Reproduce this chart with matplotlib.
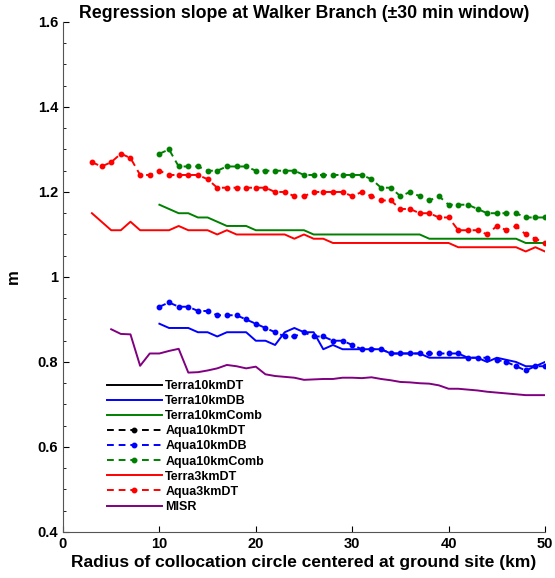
import numpy as np
import matplotlib
matplotlib.use("Agg")
import matplotlib.pyplot as plt
from matplotlib.ticker import FuncFormatter, MultipleLocator

plt.rcParams['font.family'] = ['Liberation Sans', 'DejaVu Sans']
plt.rcParams['font.weight'] = 'bold'

# -------------------------
#  DATA
# -------------------------
radius_3 = list(range(3, 51))
radius_5 = list(range(5, 51))
radius_10 = list(range(10, 51))

terra10_dt = []  # no data shown
aqua10_dt = []   # no data shown

terra10_db = [0.89, 0.88, 0.88, 0.88, 0.87, 0.87, 0.86, 0.87, 0.87, 0.87,
              0.85, 0.85, 0.84, 0.87, 0.88, 0.87, 0.87, 0.83, 0.84, 0.83,
              0.83, 0.83, 0.83, 0.83, 0.82, 0.82, 0.82, 0.82, 0.81, 0.81,
              0.81, 0.81, 0.81, 0.81, 0.80, 0.81, 0.805, 0.80, 0.79, 0.79, 0.80]

terra10_comb = [1.17, 1.16, 1.15, 1.15, 1.14, 1.14, 1.13, 1.12, 1.12, 1.12,
                1.11, 1.11, 1.11, 1.11, 1.11, 1.11, 1.10, 1.10, 1.10, 1.10,
                1.10, 1.10, 1.10, 1.10, 1.10, 1.10, 1.10, 1.10, 1.09, 1.09,
                1.09, 1.09, 1.09, 1.09, 1.09, 1.09, 1.09, 1.09, 1.08, 1.08, 1.08]

aqua10_db = [0.93, 0.94, 0.93, 0.93, 0.92, 0.92, 0.91, 0.91, 0.91, 0.90,
             0.89, 0.88, 0.87, 0.86, 0.86, 0.87, 0.86, 0.86, 0.85, 0.85,
             0.84, 0.83, 0.83, 0.83, 0.82, 0.82, 0.82, 0.82, 0.82, 0.82,
             0.82, 0.82, 0.81, 0.81, 0.81, 0.805, 0.80, 0.79, 0.78, 0.79, 0.79]

aqua10_comb = [1.29, 1.30, 1.26, 1.26, 1.26, 1.25, 1.25, 1.26, 1.26, 1.26,
               1.25, 1.25, 1.25, 1.25, 1.25, 1.24, 1.24, 1.24, 1.24, 1.24,
               1.24, 1.24, 1.23, 1.21, 1.21, 1.19, 1.20, 1.19, 1.18, 1.19,
               1.17, 1.17, 1.17, 1.16, 1.15, 1.15, 1.15, 1.15, 1.14, 1.14, 1.14]

terra3_dt = [1.15, 1.13, 1.11, 1.11, 1.13, 1.11, 1.11, 1.11, 1.11, 1.12,
             1.11, 1.11, 1.11, 1.10, 1.11, 1.10, 1.10, 1.10, 1.10, 1.10,
             1.10, 1.09, 1.10, 1.09, 1.09, 1.08, 1.08, 1.08, 1.08, 1.08,
             1.08, 1.08, 1.08, 1.08, 1.08, 1.08, 1.08, 1.08, 1.07, 1.07,
             1.07, 1.07, 1.07, 1.07, 1.07, 1.06, 1.07, 1.06]

aqua3_dt = [1.27, 1.26, 1.27, 1.29, 1.28, 1.24, 1.24, 1.25, 1.24, 1.24,
            1.24, 1.24, 1.23, 1.21, 1.21, 1.21, 1.21, 1.21, 1.21, 1.20,
            1.20, 1.19, 1.19, 1.20, 1.20, 1.20, 1.20, 1.19, 1.20, 1.19,
            1.18, 1.18, 1.16, 1.16, 1.15, 1.15, 1.14, 1.14, 1.11, 1.11,
            1.11, 1.10, 1.12, 1.11, 1.12, 1.10, 1.09, 1.08]

misr = [0.877, 0.866, 0.865, 0.791, 0.82, 0.82, 0.826, 0.831, 0.775, 0.776,
        0.78, 0.785, 0.793, 0.79, 0.785, 0.789, 0.771, 0.767, 0.765, 0.763,
        0.758, 0.759, 0.760, 0.760, 0.763, 0.763, 0.762, 0.764, 0.760, 0.757,
        0.753, 0.752, 0.750, 0.749, 0.745, 0.737, 0.737, 0.735, 0.733, 0.730,
        0.728, 0.726, 0.724, 0.722, 0.722, 0.722]

# -------------------------
#  STYLE
# -------------------------
GREEN = (0.0, 0.5, 0.0)
PURPLE = (0.5, 0.0, 0.5)
solid = dict(lw=1.4)
dashed = dict(lw=1.4, ls=(0, (3.5, 2.5)), marker='o', ms=3.2)

fig = plt.figure(figsize=(5.55, 5.78), dpi=100)
ax = fig.add_axes([0.1135, 0.0796, 0.8685, 0.8824])

ax.plot(radius_10[:len(terra10_dt)], terra10_dt, color='k', label='Terra10kmDT', **solid)
ax.plot(radius_10, terra10_db, color='b', label='Terra10kmDB', **solid)
ax.plot(radius_10, terra10_comb, color=GREEN, label='Terra10kmComb', **solid)
ax.plot(radius_10[:len(aqua10_dt)], aqua10_dt, color='k', label='Aqua10kmDT', **dashed)
ax.plot(radius_10, aqua10_db, color='b', label='Aqua10kmDB', **dashed)
ax.plot(radius_10, aqua10_comb, color=GREEN, label='Aqua10kmComb', **dashed)
ax.plot(radius_3, terra3_dt, color='r', label='Terra3kmDT', **solid)
ax.plot(radius_3, aqua3_dt, color='r', label='Aqua3kmDT', **dashed)
ax.plot(radius_5, misr, color=PURPLE, label='MISR', **solid)

ax.set_xlim(0, 50)
ax.set_ylim(0.4, 1.6)
ax.xaxis.set_major_locator(MultipleLocator(10))
ax.yaxis.set_major_locator(MultipleLocator(0.2))
ax.yaxis.set_minor_locator(MultipleLocator(0.05))
ax.yaxis.set_major_formatter(FuncFormatter(lambda v, p: f"{v:g}"))
ax.tick_params(direction='in', labelsize=10.5, length=4, width=0.8)
ax.tick_params(which='minor', direction='in', length=2, width=0.6)
for lab in ax.get_xticklabels() + ax.get_yticklabels():
    lab.set_fontweight('bold')

ax.spines['top'].set_visible(False)
ax.spines['right'].set_visible(False)
for s in ('left', 'bottom'):
    ax.spines[s].set_color('#555555')
    ax.spines[s].set_linewidth(0.8)

ax.set_title("Regression slope at Walker Branch (\u00b130 min window)",
             fontsize=12.8, fontweight='bold', pad=-1)
ax.set_xlabel("Radius of collocation circle centered at ground site (km)",
              fontsize=12.5, fontweight='bold', labelpad=3)
ax.set_ylabel("m", fontsize=12, fontweight='bold', labelpad=12)

leg = ax.legend(loc='upper left', bbox_to_anchor=(0.08, 0.308), frameon=False,
                fontsize=9, handlelength=4.4, handletextpad=0.3,
                labelspacing=0.25, borderaxespad=0)
for t in leg.get_texts():
    t.set_fontweight('bold')

fig.savefig("out.png", dpi=100)
